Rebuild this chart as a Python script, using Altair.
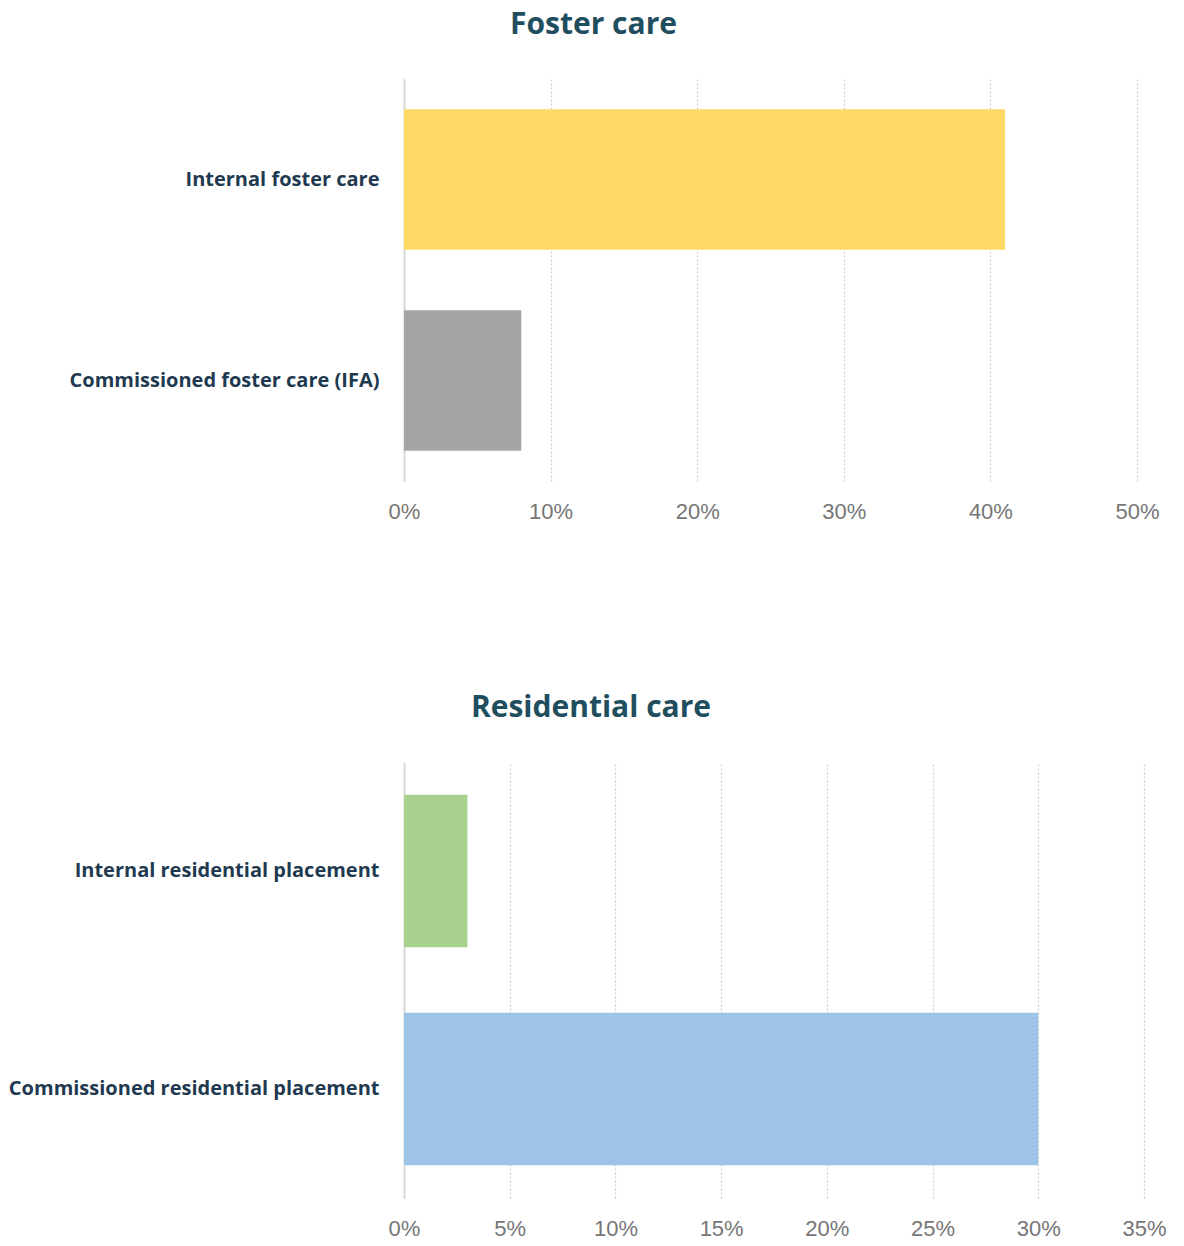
import altair as alt
import pandas as pd

foster_categories = ["Internal foster care", "Commissioned foster care (IFA)"]
foster_values = [0.41, 0.08]
foster_colors = ["#FFD966", "#A5A5A5"]
foster_ticks = [0, 0.1, 0.2, 0.3, 0.4, 0.5]

res_categories = ["Internal residential placement", "Commissioned residential placement"]
res_values = [0.03, 0.30]
res_colors = ["#A9D18E", "#9DC3E6"]
res_ticks = [0, 0.05, 0.10, 0.15, 0.20, 0.25, 0.30, 0.35]

TITLE_COLOR = "#1F4E5F"
LABEL_COLOR = "#1F3A50"
TICK_COLOR = "#767676"
LABEL_FONT = "Open Sans"
TICK_FONT = "Liberation Sans"


def panel(title, cats, vals, colors, ticks, width, height, dx):
    df = pd.DataFrame({"category": cats, "value": vals})
    return (
        alt.Chart(df, title=alt.TitleParams(
            title, fontSize=30, font=LABEL_FONT, fontWeight="bold",
            color=TITLE_COLOR, anchor="middle", frame="group", dx=dx, offset=39))
        .mark_bar()
        .encode(
            y=alt.Y("category:N", sort=cats, title=None,
                    scale=alt.Scale(paddingInner=0.3, paddingOuter=0.15),
                    axis=alt.Axis(labelFont=LABEL_FONT, labelFontSize=20,
                                  labelFontWeight="bold", labelColor=LABEL_COLOR,
                                  labelPadding=25, ticks=False, domain=True,
                                  domainColor="#D9D9D9", domainWidth=2,
                                  labelLimit=500)),
            x=alt.X("value:Q", title=None,
                    scale=alt.Scale(domain=[ticks[0], ticks[-1]], nice=False),
                    axis=alt.Axis(values=ticks, format=".0%", labelFont=TICK_FONT,
                                  labelFontSize=22, labelColor=TICK_COLOR,
                                  labelPadding=20, labelFlush=False,
                                  labelOverlap=False, ticks=False, domain=False,
                                  grid=True, gridColor="#D0D0D0", gridDash=[2, 2],
                                  gridWidth=1.3)),
            color=alt.Color("category:N", scale=alt.Scale(domain=cats, range=colors),
                            legend=None),
        )
        .properties(width=width, height=height)
    )


top = panel("Foster care", foster_categories, foster_values, foster_colors,
            foster_ticks, 733, 402, -177)
bottom = panel("Residential care", res_categories, res_values, res_colors,
               res_ticks, 740, 436, -183)

chart = (
    alt.vconcat(top, bottom, spacing=171)
    .resolve_scale(color="independent")
    .properties(padding={"left": 0, "top": 2, "right": 0, "bottom": 0})
    .configure_view(stroke=None)
)

chart.save("out.html", embed_options={"renderer": "svg", "actions": False})
